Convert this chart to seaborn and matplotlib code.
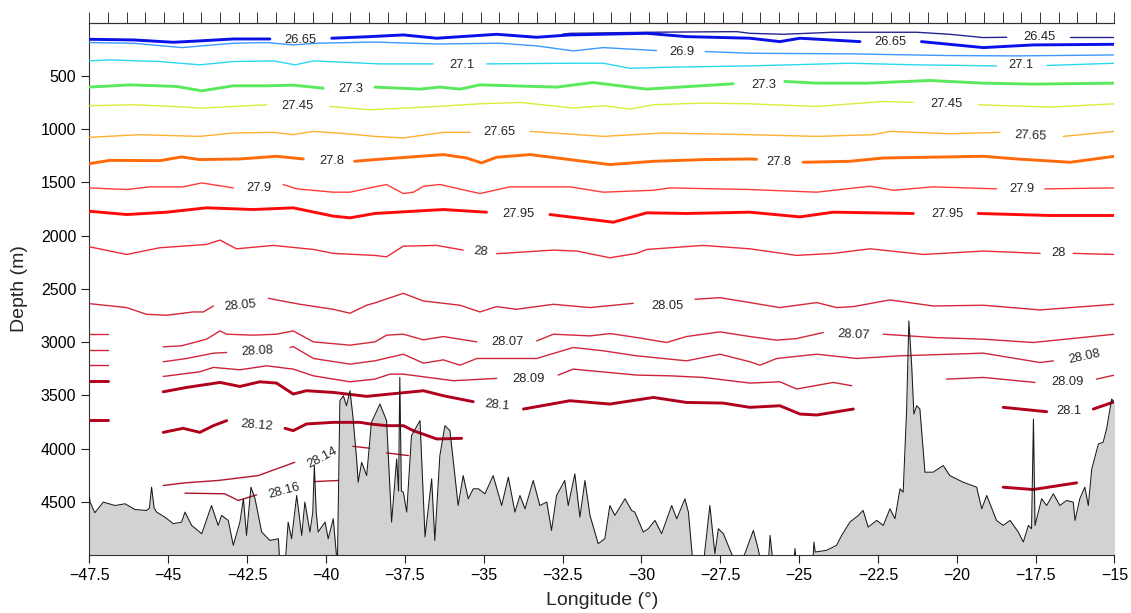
import numpy as np
import pandas as pd
import matplotlib
matplotlib.use("Agg")
import matplotlib.pyplot as plt
import seaborn as sns

# ---------------- data ----------------
# Bathymetry profile: (longitude, depth m); 5100 = deeper than plot bottom
bathymetry = [
    (-47.50, 4460), (-47.48, 4503), (-47.33, 4603), (-47.06, 4503), (-46.69, 4535),
    (-46.37, 4519), (-46.06, 4572), (-45.69, 4582), (-45.60, 4560), (-45.53, 4363),
    (-45.45, 4560), (-45.37, 4597), (-45.11, 4644), (-44.84, 4706), (-44.58, 4691),
    (-44.47, 4597), (-44.26, 4722), (-43.94, 4800), (-43.63, 4535), (-43.42, 4722),
    (-43.31, 4628), (-43.10, 4675), (-42.94, 4909), (-42.73, 4691), (-42.62, 4472),
    (-42.52, 4816), (-42.38, 4363), (-42.25, 4472), (-42.04, 4784), (-41.78, 4863),
    (-41.51, 4847), (-41.46, 5100), (-41.30, 5100), (-41.20, 4691), (-41.09, 4847),
    (-40.93, 4441), (-40.77, 4816), (-40.67, 4503), (-40.51, 4784), (-40.42, 4600),
    (-40.37, 4160), (-40.31, 4600), (-40.25, 4784), (-40.03, 4691), (-39.93, 4847),
    (-39.77, 4660), (-39.64, 5100), (-39.56, 3551), (-39.45, 3504), (-39.35, 3598),
    (-39.24, 3457), (-39.15, 3691), (-39.03, 4097), (-38.98, 4316), (-38.87, 4129),
    (-38.71, 4254), (-38.56, 3754), (-38.29, 3582), (-38.08, 3738), (-37.92, 4691),
    (-37.76, 4097), (-37.70, 4400), (-37.66, 3332), (-37.61, 4400), (-37.55, 4410),
    (-37.44, 4597), (-37.29, 3879), (-37.02, 3738), (-36.86, 4830), (-36.65, 4285),
    (-36.55, 4863), (-36.39, 4066), (-36.23, 3785), (-36.07, 3832), (-35.81, 4535),
    (-35.65, 4254), (-35.49, 4472), (-35.33, 4378), (-35.17, 4378), (-34.96, 4425),
    (-34.70, 4254), (-34.43, 4535), (-34.22, 4269), (-34.01, 4597), (-33.85, 4441),
    (-33.69, 4566), (-33.43, 4300), (-33.22, 4535), (-33.00, 4503), (-32.85, 4769),
    (-32.69, 4441), (-32.43, 4300), (-32.32, 4535), (-32.11, 4238), (-31.95, 4644),
    (-31.79, 4300), (-31.63, 4628), (-31.37, 4894), (-31.16, 4847), (-31.00, 4535),
    (-30.84, 4628), (-30.52, 4472), (-30.31, 4582), (-30.21, 4597), (-29.94, 4784),
    (-29.78, 4753), (-29.57, 4675), (-29.36, 4800), (-29.04, 4535), (-28.88, 4660),
    (-28.62, 4472), (-28.51, 4597), (-28.36, 5100), (-28.04, 5100), (-27.83, 4535),
    (-27.67, 4988), (-27.56, 4753), (-27.40, 4800), (-27.14, 4989), (-26.93, 5100),
    (-26.72, 4988), (-26.45, 4769), (-26.30, 4941), (-26.19, 5100), (-25.98, 5100),
    (-25.92, 4816), (-25.82, 5100), (-25.18, 5100), (-25.13, 4940), (-25.08, 5100),
    (-24.57, 5100), (-24.53, 4878), (-24.49, 4972), (-24.13, 4956), (-23.81, 4909),
    (-23.65, 4816), (-23.39, 4691), (-23.12, 4628), (-22.97, 4581), (-22.81, 4738),
    (-22.54, 4675), (-22.33, 4722), (-22.12, 4566), (-21.96, 4659), (-21.80, 4378),
    (-21.70, 4410), (-21.59, 3629), (-21.52, 2801), (-21.43, 3223), (-21.36, 3676),
    (-21.27, 3598), (-21.17, 3629), (-21.01, 4222), (-20.75, 4222), (-20.43, 4160),
    (-20.22, 4254), (-19.80, 4316), (-19.37, 4363), (-19.21, 4566), (-19.05, 4441),
    (-18.74, 4675), (-18.53, 4722), (-18.31, 4675), (-18.05, 4784), (-17.89, 4878),
    (-17.73, 4722), (-17.63, 4753), (-17.57, 3723), (-17.52, 4722), (-17.31, 4472),
    (-17.15, 4535), (-16.94, 4425), (-16.73, 4535), (-16.52, 4488), (-16.31, 4503),
    (-16.25, 4675), (-16.10, 4472), (-15.94, 4363), (-15.83, 4535), (-15.72, 4191),
    (-15.51, 3957), (-15.36, 3941), (-15.25, 3816), (-15.09, 3535), (-15.00, 3566),
]

# Isopycnals: (longitude, depth m); None = break for an inline label
iso_26_45 = [(-32.5, 108), (-32.27, 100), (-29.83, 90), (-26.98, 84), (-26.56, 100),
             (-25.50, 109), (-23.92, 90), (-22.33, 90), (-21.27, 90), (-20.22, 109),
             (-19.16, 140), (-18.42, 137), None, (-16.40, 137), (-15.0, 137)]
iso_26_65 = [(-47.5, 156), (-46.11, 162), (-44.84, 184), (-44.0, 171), (-42.94, 153),
             (-41.78, 153), None, (-39.82, 146), (-38.61, 131), (-37.55, 115),
             (-36.49, 146), (-34.59, 109), (-33.32, 137), (-32.27, 115), (-29.83, 100),
             (-28.57, 131), (-26.56, 146), (-25.61, 178), (-24.97, 146), (-23.07, 178),
             None, (-21.12, 178), (-19.16, 234), (-17.58, 209), (-15.0, 203)]
iso_26_90 = [(-47.5, 187), (-46.11, 193), (-44.58, 234), (-42.94, 193), (-41.88, 187),
             (-41.04, 209), (-40.30, 193), (-38.5, 182), (-36.49, 200), (-34.48, 193),
             (-33.32, 218), (-32.16, 265), (-31.21, 234), (-29.52, 262), None,
             (-27.98, 271), (-26.56, 287), (-23.39, 293), (-20.22, 309), (-18.10, 312),
             (-15.0, 303)]
iso_27_10 = [(-47.5, 359), (-46.85, 350), (-45.27, 365), (-44.0, 396), (-42.94, 365),
             (-41.67, 359), (-40.98, 396), (-40.40, 359), (-38.29, 387), (-36.60, 387),
             None, (-34.91, 387), (-32.27, 381), (-31.21, 381), (-30.36, 428),
             (-29.09, 418), (-26.56, 406), (-23.39, 381), (-21.27, 396), (-18.74, 406),
             None, (-17.15, 402), (-15.0, 381)]
iso_27_30 = [(-47.5, 605), (-46.22, 584), (-44.74, 599), (-43.94, 640), (-42.94, 593),
             (-41.88, 593), (-41.04, 587), (-40.09, 615), None, (-38.45, 605),
             (-37.02, 624), (-36.39, 605), (-35.75, 624), (-35.12, 584), (-32.69, 605),
             (-31.53, 562), (-29.83, 624), (-27.09, 574), None, (-25.45, 552),
             (-24.44, 568), (-22.86, 568), (-20.85, 543), (-19.16, 568), (-17.58, 577),
             (-15.0, 568)]
iso_27_45 = [(-47.5, 780), (-46.11, 771), (-44.84, 787), (-43.94, 802), (-42.94, 787),
             (-41.88, 771), None, (-39.88, 787), (-38.61, 818), (-36.49, 787),
             (-35.12, 762), (-33.85, 749), (-32.16, 802), (-31.21, 780), (-30.36, 812),
             (-29.62, 771), (-28.04, 755), (-26.56, 762), (-24.44, 787), (-22.33, 740),
             (-21.38, 749), None, (-19.32, 771), (-17.05, 793), (-15.0, 762)]
iso_27_65 = [(-47.5, 1077), (-45.90, 1052), (-44.0, 1068), (-42.94, 1036), (-41.67, 1030),
             (-41.04, 1052), (-40.40, 1021), (-39.35, 1043), (-38.45, 1068), (-37.55, 1083),
             (-36.28, 1030), (-35.44, 1030), None, (-33.53, 1021), (-31.21, 1068),
             (-29.31, 1036), (-26.56, 1052), (-24.44, 1068), (-22.65, 1052), (-22.12, 1021),
             (-20.22, 1043), (-18.63, 1030), None, (-16.62, 1068), (-15.0, 1021)]
iso_27_80 = [(-47.5, 1324), (-46.85, 1293), (-45.27, 1296), (-44.58, 1261), (-44.0, 1286),
             (-42.73, 1280), (-41.57, 1255), (-40.72, 1280), None, (-39.09, 1302),
             (-38.45, 1286), (-36.28, 1239), (-35.54, 1271), (-35.07, 1317), (-34.59, 1264),
             (-33.53, 1239), (-32.27, 1286), (-31.00, 1333), (-29.62, 1302), (-28.04, 1286),
             (-26.56, 1280), (-26.35, 1283), None, (-24.87, 1311), (-23.39, 1302),
             (-22.33, 1271), (-19.16, 1255), (-18.10, 1280), (-16.40, 1311), (-15.0, 1255)]
iso_27_90 = [(-47.5, 1552), (-46.32, 1567), (-45.58, 1542), (-44.53, 1542), (-43.94, 1505),
             (-42.94, 1552), None, (-41.36, 1520), (-40.93, 1561), (-39.77, 1592),
             (-39.24, 1592), (-38.45, 1542), (-38.08, 1520), (-37.55, 1605), (-37.23, 1592),
             (-36.91, 1536), (-36.39, 1520), (-35.12, 1605), (-34.17, 1542), (-32.27, 1542),
             (-31.21, 1592), (-29.62, 1574), (-29.09, 1552), (-26.56, 1567), (-24.44, 1592),
             (-22.75, 1536), (-22.01, 1574), (-20.75, 1542), (-18.74, 1561), None,
             (-17.21, 1561), (-15.0, 1552)]
iso_27_95 = [(-47.5, 1771), (-46.32, 1802), (-45.05, 1780), (-43.79, 1739), (-42.31, 1755),
             (-41.04, 1739), (-39.77, 1817), (-39.24, 1833), (-38.45, 1792), (-36.28, 1755),
             (-34.91, 1780), None, (-32.90, 1802), (-30.89, 1874), (-29.83, 1786),
             (-28.57, 1792), (-26.56, 1780), (-24.97, 1824), (-23.92, 1780), (-21.38, 1792),
             None, (-19.32, 1792), (-17.05, 1811), (-15.0, 1811)]
iso_28_00 = [(-47.5, 2105), (-46.32, 2177), (-45.27, 2114), (-43.79, 2083), (-43.36, 2042),
             (-42.84, 2124), (-41.67, 2092), (-40.40, 2130), (-39.77, 2167), (-38.45, 2186),
             (-38.08, 2199), (-37.55, 2099), (-36.49, 2092), (-35.65, 2136), None,
             (-34.59, 2170), (-32.79, 2136), (-32.05, 2145), (-31.00, 2208), (-30.15, 2167),
             (-29.83, 2130), (-28.04, 2092), (-26.56, 2124), (-25.08, 2186), (-23.92, 2167),
             (-22.75, 2124), (-21.06, 2177), (-19.16, 2145), (-17.36, 2167), None,
             (-16.31, 2167), (-15.0, 2177)]
iso_28_05 = [(-47.5, 2639), (-46.32, 2676), (-45.69, 2739), (-45.05, 2748), (-44.21, 2717),
             (-43.89, 2717), (-43.57, 2661), None, (-41.83, 2589), (-40.83, 2645),
             (-39.77, 2692), (-39.24, 2729), (-38.71, 2654), (-38.45, 2632), (-37.55, 2542),
             (-36.91, 2614), (-35.75, 2654), (-35.12, 2717), (-34.59, 2667), (-33.96, 2692),
             (-32.79, 2645), (-31.63, 2676), (-30.26, 2636), None, (-28.30, 2598),
             (-27.51, 2583), (-26.56, 2629), (-25.61, 2676), (-24.44, 2629), (-23.81, 2676),
             (-23.28, 2667), (-22.12, 2604), (-20.75, 2661), (-19.16, 2654), (-17.36, 2698),
             (-15.0, 2645)]
iso_28_07 = [(-47.48, 2920), (-46.90, 2920), None, (-45.16, 3045), (-44.58, 3035),
             (-43.79, 2973), (-43.36, 2895), (-43.15, 2926), (-42.31, 2935), (-41.57, 2926),
             (-41.04, 2895), (-40.40, 2998), (-39.24, 3029), (-38.45, 2998), (-38.08, 2935),
             (-37.55, 2926), (-36.91, 2979), (-36.28, 2948), (-35.22, 2998), None,
             (-33.32, 2989), (-32.79, 2926), (-31.63, 2942), (-30.99, 2920), (-30.15, 2957),
             (-29.20, 3004), (-28.57, 2948), (-27.51, 2904), (-26.56, 2948), (-25.71, 2982),
             (-25.08, 2967), (-24.23, 2910), None, (-22.33, 2926), (-20.75, 2957),
             (-19.16, 2973), (-17.58, 3004), (-15.0, 2926)]
iso_28_08 = [(-47.48, 3073), (-46.90, 3073), None, (-45.16, 3185), (-44.42, 3154),
             (-43.57, 3104), (-43.15, 3098), None, (-41.14, 3051), (-41.04, 3042),
             (-40.40, 3154), (-39.24, 3207), (-38.45, 3176), (-37.55, 3114), (-36.91, 3198),
             (-36.28, 3167), (-35.75, 3217), (-35.22, 3154), (-33.32, 3154), (-32.16, 3051),
             (-31.21, 3082), (-30.15, 3129), (-28.57, 3176), (-27.51, 3114), (-26.56, 3185),
             (-26.24, 3217), (-25.71, 3154), (-24.44, 3114), (-23.18, 3154), (-21.80, 3129),
             (-19.16, 3104), (-17.36, 3192), (-16.94, 3176)]
iso_28_09 = [(-47.48, 3217), (-46.90, 3217), None, (-45.16, 3323), (-44.0, 3279),
             (-43.57, 3238), (-42.73, 3260), (-41.88, 3223), (-41.04, 3254), (-40.40, 3317),
             (-39.24, 3373), (-38.45, 3348), (-37.97, 3301), (-37.55, 3301), (-35.96, 3363),
             (-34.59, 3341), None, (-32.64, 3310), (-32.16, 3254), (-30.15, 3310),
             (-29.09, 3317), (-28.04, 3332), (-26.56, 3385), (-25.61, 3373), (-25.08, 3441),
             (-23.92, 3379), (-23.33, 3410), None, (-20.32, 3348), (-19.16, 3332),
             (-17.52, 3379), None, (-15.57, 3348), (-15.0, 3310)]
iso_28_10 = [(-47.48, 3363), (-46.90, 3363), None, (-45.16, 3467), (-44.42, 3426),
             (-43.36, 3379), (-42.73, 3417), (-42.10, 3373), (-41.57, 3385), (-41.04, 3488),
             (-40.62, 3457), (-39.77, 3473), (-38.71, 3510), (-37.97, 3488), (-36.91, 3457),
             (-36.28, 3504), (-35.33, 3560), None, (-33.74, 3629), (-32.27, 3551),
             (-31.00, 3582), (-29.62, 3520), (-28.57, 3567), (-27.41, 3573), (-26.56, 3613),
             (-25.61, 3598), (-24.97, 3676), (-24.44, 3685), (-23.28, 3629), None,
             (-18.53, 3613), (-17.15, 3654), None, (-15.67, 3629), (-15.0, 3560)]
iso_28_12 = [(-47.48, 3729), (-46.90, 3729), None, (-45.16, 3848), (-44.53, 3810),
             (-44.0, 3848), (-43.57, 3785), (-43.15, 3738), None, (-41.30, 3810),
             (-41.04, 3832), (-40.62, 3769), (-39.77, 3754), (-38.92, 3754), (-38.61, 3769),
             (-38.08, 3785), (-37.55, 3785), (-37.23, 3832), (-36.49, 3910), (-35.70, 3904),
             None, (-18.53, 4363), (-17.58, 4385), (-16.20, 4322)]
iso_28_14 = [(-45.16, 4347), (-44.47, 4322), (-43.42, 4300), (-42.15, 4254), (-40.99, 4129),
             None, (-40.35, 4310), (-39.61, 4300), None, (-39.15, 3979), (-38.61, 3997),
             None, (-38.08, 4041), (-37.39, 4066)]
iso_28_16 = [(-44.47, 4419), (-43.21, 4425), (-42.78, 4488), (-42.20, 4435)]

# Inline contour labels: (text, longitude, depth, rotation)
contour_labels = [
    ("26.65", -40.80, 162, 0), ("26.9", -28.73, 272, 0), ("26.65", -22.10, 178, 0),
    ("26.45", -17.39, 137, 0), ("27.1", -35.70, 396, 0), ("27.1", -17.97, 396, 0),
    ("27.3", -39.22, 621, 0), ("27.3", -26.12, 590, 0), ("27.45", -40.91, 787, 0),
    ("27.45", -20.34, 762, 0), ("27.65", -34.51, 1027, 0), ("27.65", -17.65, 1062, -3),
    ("27.8", -39.82, 1302, 0), ("27.8", -25.63, 1308, 0), ("27.9", -42.13, 1552, 0),
    ("27.9", -17.94, 1561, 0), ("27.95", -33.90, 1793, 0), ("27.95", -20.30, 1793, 0),
    ("28", -35.10, 2155, -5), ("28", -16.78, 2161, 0), ("28.05", -42.71, 2655, 5),
    ("28.05", -29.18, 2661, 0), ("28.07", -34.26, 2995, 0), ("28.07", -23.28, 2936, -3),
    ("28.08", -42.19, 3083, 3), ("28.08", -15.94, 3135, 12), ("28.09", -33.59, 3348, 0),
    ("28.09", -16.50, 3373, 0), ("28.1", -34.57, 3598, -6), ("28.1", -16.44, 3651, 0),
    ("28.12", -42.21, 3779, -5), ("28.14", -40.12, 4088, 28), ("28.16", -41.33, 4394, 15),
]

xtick_values = [-47.5, -45, -42.5, -40, -37.5, -35, -32.5, -30, -27.5, -25, -22.5, -20, -17.5, -15]
ytick_values = [500, 1000, 1500, 2000, 2500, 3000, 3500, 4000, 4500]
n_stations = 56

# ---------------- style ----------------
sns.set_style("ticks")
plt.rcParams["font.family"] = ["Liberation Sans", "DejaVu Sans"]

THICK, THIN = 2.1, 1.0
levels = [
    (iso_26_45, "#25258f", THIN),
    (iso_26_65, "#0a10e8", THICK),
    (iso_26_90, "#3d98ff", THIN),
    (iso_27_10, "#2ad8f0", THIN),
    (iso_27_30, "#5ce85c", THICK),
    (iso_27_45, "#dcec3c", THIN),
    (iso_27_65, "#ffb030", THIN),
    (iso_27_80, "#ff6a0a", THICK),
    (iso_27_90, "#ff3c3c", THIN),
    (iso_27_95, "#ff0a0a", THICK),
    (iso_28_00, "#ea2a3a", THIN),
    (iso_28_05, "#d4283c", THIN),
    (iso_28_07, "#d4283c", THIN),
    (iso_28_08, "#d0283c", THIN),
    (iso_28_09, "#cc2238", THIN),
    (iso_28_10, "#b0001c", THICK),
    (iso_28_12, "#b0001c", THICK),
    (iso_28_14, "#b41428", THIN),
    (iso_28_16, "#aa1428", THIN),
]


def to_frame(points):
    rows, seg = [], 0
    for p in points:
        if p is None:
            seg += 1
            continue
        rows.append((p[0], p[1], seg))
    return pd.DataFrame(rows, columns=["lon", "depth", "seg"])


fig = plt.figure(figsize=(11.31, 6.13), dpi=100)
ax = fig.add_axes([0.0791, 0.0946, 0.9063, 0.8684])

# bathymetry
bathy = pd.DataFrame(bathymetry, columns=["lon", "depth"])
ax.fill_between(bathy["lon"], bathy["depth"], 5200, color="#d2d2d2", linewidth=0, zorder=1)
sns.lineplot(data=bathy, x="lon", y="depth", sort=False, estimator=None,
             color="#1a1a1a", linewidth=0.75, ax=ax, zorder=4, legend=False)

# isopycnals
for pts, col, lw in levels:
    df = to_frame(pts)
    sns.lineplot(data=df, x="lon", y="depth", units="seg", estimator=None, sort=False,
                 color=col, linewidth=lw, ax=ax, zorder=3, legend=False)

for txt, lon, dep, rot in contour_labels:
    ax.text(lon, dep, txt, ha="center", va="center", fontsize=9.3, color="#262626",
            rotation=rot, zorder=5)

ax.set_xlim(-47.5, -15)
ax.set_ylim(5000, 0)
ax.set_xticks(xtick_values)
ax.set_xticklabels([f"{v:g}".replace("-", "\u2212") for v in xtick_values])
ax.set_yticks(ytick_values)
ax.set_yticklabels([str(v) for v in ytick_values])
ax.tick_params(axis="both", direction="out", length=6, width=0.8, labelsize=11.5,
               colors="#222222", labelcolor="black")
ax.set_xlabel("Longitude (\u00b0)", fontsize=14, labelpad=6)
ax.set_ylabel("Depth (m)", fontsize=14, labelpad=9)

for s in ["left", "bottom", "top"]:
    ax.spines[s].set_visible(True)
    ax.spines[s].set_linewidth(0.8)
    ax.spines[s].set_color("#333333")
ax.spines["right"].set_visible(False)

top = ax.secondary_xaxis("top")
top.set_xticks(np.linspace(-47.5, -15, n_stations))
top.set_xticklabels([])
top.tick_params(direction="out", length=8, width=0.7, colors="#333333")
top.spines["top"].set_linewidth(0.8)
top.spines["top"].set_color("#333333")

fig.savefig("out.png", dpi=100)
